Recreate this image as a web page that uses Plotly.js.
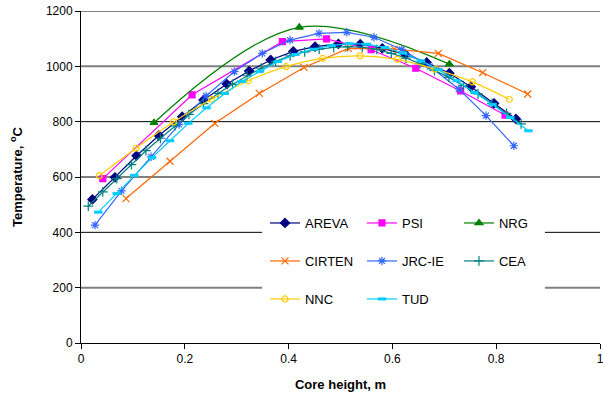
<!DOCTYPE html>
<html>
<head>
<meta charset="utf-8">
<script src="https://cdn.plot.ly/plotly-3.0.1.min.js"></script>
<style>html,body{margin:0;padding:0;background:#fff;}#chart{width:603px;height:396px;}</style>
</head>
<body>
<div id="chart"></div>
<script>
// ---- data ----
const arevaX = [0.022,0.0655,0.107,0.15,0.195,0.236,0.281,0.324,0.3655,0.409,0.451,0.496,0.538,0.5805,0.625,0.666,0.7097,0.751,0.796,0.838];
const arevaY = [519,599,677,750,818,878,936,983,1023,1054,1071,1081,1080,1065,1043,1014,975,926,866,810];

const psiX = [0.042,0.214,0.388,0.473,0.559,0.645,0.7315,0.817];
const psiY = [594,897,1089,1099,1060,993,911,824];

const nrgX = [0.1407,0.4206,0.7097];
const nrgY = [796,1141,1008];

const cirtenX = [0.0867,0.1715,0.258,0.3436,0.4297,0.515,0.6037,0.6885,0.774,0.8607];
const cirtenY = [522,657,794,902,996,1065,1062,1047,977,900];

const jrcX = [0.027,0.078,0.135,0.189,0.241,0.2954,0.3494,0.4027,0.4586,0.512,0.5645,0.618,0.6724,0.728,0.7803,0.834];
const jrcY = [426,550,673,790,893,981,1047,1095,1119,1123,1105,1061,999,918,822,713];

const ceaX = [0.014,0.042,0.069,0.097,0.125,0.153,0.181,0.208,0.236,0.264,0.292,0.320,0.347,0.375,0.403,0.431,0.459,0.487,0.514,0.542,0.570,0.598,0.626,0.653,0.681,0.709,0.737,0.765,0.792,0.820,0.848];
const ceaY = [495,546,594,645,695,740,785,826,865,902,935,966,993,1018,1038,1052,1062,1068,1071,1069,1061,1047,1030,1010,985,960,930,900,866,830,792];

const nncX = [0.0353,0.106,0.178,0.2516,0.3224,0.395,0.4657,0.5376,0.6095,0.682,0.754,0.8252];
const nncY = [605,704,799,881,948,999,1029,1038,1025,990,944,881];

const tudX = [0.0334,0.0688,0.1027,0.137,0.1715,0.2068,0.242,0.277,0.3095,0.345,0.379,0.413,0.448,0.482,0.517,0.551,0.586,0.62,0.655,0.689,0.724,0.758,0.793,0.827,0.862];
const tudY = [473,540,606,670,731,794,850,902,945,982,1017,1043,1062,1075,1082,1080,1068,1048,1020,988,948,905,862,815,767];

const xTicks = [0,0.2,0.4,0.6,0.8,1];
const xTickText = ['0','0.2','0.4','0.6','0.8','1'];
const yTicks = [0,200,400,600,800,1000,1200];
const blackGrid = [400,600,800];
const grayGrid = [200,1000,1200];

function tr(name, x, y, color, symbol, size, legend, opts) {
  opts = opts || {};
  return {
    type: 'scatter', mode: 'lines+markers', name: name, x: x, y: y,
    legend: legend,
    line: {color: color, width: 1.2, shape: opts.shape || 'linear', smoothing: 1},
    marker: {symbol: symbol, size: size, color: color, line: {color: color, width: opts.mlw || 1.2}}
  };
}

const traces = [
  tr('AREVA', arevaX, arevaY, '#000080', 'diamond', 7, 'legend', {}),
  tr('PSI', psiX, psiY, '#FF00FF', 'square', 6, 'legend', {}),
  tr('NRG', nrgX, nrgY, '#008000', 'triangle-up', 7, 'legend', {shape: 'spline'}),
  tr('CIRTEN', cirtenX, cirtenY, '#FF6600', 'x-thin-open', 7, 'legend2', {}),
  tr('JRC-IE', jrcX, jrcY, '#3366FF', 'asterisk-open', 7, 'legend2', {}),
  tr('CEA', ceaX, ceaY, '#008080', 'cross-thin-open', 7, 'legend2', {}),
  tr('NNC', nncX, nncY, '#FFCC00', 'circle-open', 6, 'legend3', {shape: 'spline'}),
  tr('TUD', tudX, tudY, '#00CCFF', 'line-ew-open', 6, 'legend3', {mlw: 3})
];

const shapes = [];
blackGrid.forEach(v => shapes.push({type:'line', xref:'paper', x0:0, x1:1, yref:'y', y0:v, y1:v, layer:'below', line:{color:'#000', width:1}}));
grayGrid.forEach(v => shapes.push({type:'line', xref:'paper', x0:0, x1:1, yref:'y', y0:v, y1:v, layer:'below', line:{color:'#808080', width:2}}));
shapes.push({type:'rect', xref:'paper', yref:'paper', x0:0.349, x1:0.894, y0:0.04, y1:0.415, layer:'below', fillcolor:'#fff', line:{width:0}});

const legBase = {orientation:'h', xanchor:'left', yanchor:'middle', x:0.3545, bgcolor:'rgba(0,0,0,0)',
  font:{family:'Liberation Sans, Arial, sans-serif', size:13, color:'#000'},
  entrywidth: 52, entrywidthmode:'pixels', itemwidth:30, traceorder:'normal'};

const layout = {
  width: 603, height: 396,
  margin: {l:81, r:3, t:11, b:53},
  paper_bgcolor:'#fff', plot_bgcolor:'#fff',
  font:{family:'Liberation Sans, Arial, sans-serif', size:12, color:'#000'},
  showlegend: true,
  legend: Object.assign({}, legBase, {y:0.3614}),
  legend2: Object.assign({}, legBase, {y:0.247}),
  legend3: Object.assign({}, legBase, {y:0.1325}),
  xaxis: {range:[0,1], tickvals:xTicks, ticktext:xTickText, showgrid:false, zeroline:false,
    showline:true, linecolor:'#000', linewidth:1, ticks:'outside', ticklen:5, tickcolor:'#000',
    ticklabeloverflow:'allow',
    tickfont:{size:12}, title:{text:'<b>Core height, m</b>', font:{size:13}, standoff:14}},
  yaxis: {range:[0,1200], tickvals:yTicks, showgrid:false, zeroline:false,
    showline:true, linecolor:'#000', linewidth:1, ticks:'outside', ticklen:5, tickcolor:'#000',
    tickfont:{size:12}, title:{text:'<b>Temperature, <sup>o</sup>C</b>', font:{size:13}, standoff:20}},
  shapes: shapes
};

Plotly.newPlot('chart', traces, layout, {displayModeBar:false, staticPlot:true});
</script>
</body>
</html>
